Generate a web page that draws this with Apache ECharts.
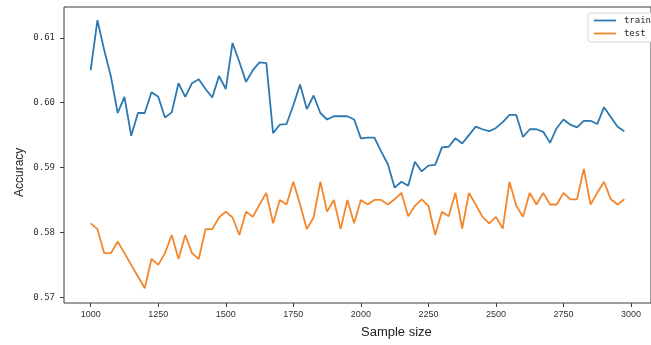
<!DOCTYPE html>
<html>
<head>
<meta charset="utf-8">
<script src="https://cdn.jsdelivr.net/npm/echarts@6/dist/echarts.min.js"></script>
<style>
html,body{margin:0;padding:0;background:#fff;}
#chart{width:651px;height:345px;}
</style>
</head>
<body>
<div id="chart"></div>
<script>
const sampleSizes = [1000,1025,1050,1075,1100,1125,1150,1175,1200,1225,1250,1275,1300,1325,1350,1375,1400,1425,1450,1475,
  1500,1525,1550,1575,1600,1625,1650,1675,1700,1725,1750,1775,1800,1825,1850,1875,1900,1925,1950,1975,
  2000,2025,2050,2075,2100,2125,2150,2175,2200,2225,2250,2275,2300,2325,2350,2375,2400,2425,2450,2475,
  2500,2525,2550,2575,2600,2625,2650,2675,2700,2725,2750,2775,2800,2825,2850,2875,2900,2925,2950,2975];

const trainAcc = [0.6050,0.6127,0.6081,0.6040,0.5984,0.6009,0.5949,0.5984,0.5984,0.6016,
  0.6009,0.5977,0.5985,0.6030,0.6009,0.6030,0.6036,0.6021,0.6008,0.6041,
  0.6021,0.6092,0.6063,0.6032,0.6050,0.6062,0.6061,0.5953,0.5966,0.5967,
  0.5996,0.6028,0.5990,0.6011,0.5984,0.5974,0.5979,0.5979,0.5979,0.5974,
  0.5945,0.5946,0.5946,0.5925,0.5905,0.5869,0.5878,0.5872,0.5909,0.5894,
  0.5903,0.5904,0.5931,0.5932,0.5945,0.5937,0.5950,0.5963,0.5959,0.5956,
  0.5961,0.5970,0.5981,0.5981,0.5947,0.5959,0.5959,0.5955,0.5938,0.5961,
  0.5974,0.5966,0.5962,0.5972,0.5972,0.5967,0.5993,0.5978,0.5963,0.5956];

const testAcc = [0.5814,0.5805,0.5768,0.5768,0.5786,0.5768,0.5750,0.5732,0.5714,0.5759,
  0.5750,0.5768,0.5796,0.5759,0.5796,0.5768,0.5759,0.5805,0.5805,0.5823,
  0.5832,0.5823,0.5796,0.5832,0.5824,0.5843,0.5861,0.5814,0.5850,0.5843,
  0.5878,0.5843,0.5805,0.5823,0.5878,0.5832,0.5850,0.5805,0.5850,0.5814,
  0.5850,0.5843,0.5850,0.5850,0.5843,0.5851,0.5861,0.5825,0.5841,0.5851,
  0.5841,0.5796,0.5832,0.5825,0.5861,0.5806,0.5861,0.5843,0.5824,0.5814,
  0.5824,0.5806,0.5878,0.5841,0.5824,0.5861,0.5843,0.5861,0.5843,0.5843,
  0.5861,0.5851,0.5851,0.5898,0.5843,0.5861,0.5878,0.5851,0.5843,0.5851];

const xTicks = [1000,1250,1500,1750,2000,2250,2500,2750,3000];
const yTicks = [0.57,0.58,0.59,0.60,0.61];

const seriesNames = ['train','test'];
const colors = ['#2b78b2','#f4862b'];

const chart = echarts.init(document.getElementById('chart'), null, {renderer:'canvas'});
const pair = (ys) => sampleSizes.map((x,i)=>[x, ys[i]]);

chart.setOption({
  animation:false,
  backgroundColor:'#fff',
  color: colors,
  grid:{left:64, top:7, width:595, height:296, show:true, borderColor:'#3a3a3a', borderWidth:1, backgroundColor:'transparent'},
  xAxis:{
    type:'value', min:901.25, max:3073.75,
    axisLine:{show:false},
    splitLine:{show:false},
    axisTick:{show:true, customValues:xTicks, length:4, lineStyle:{color:'#3a3a3a'}},
    axisLabel:{customValues:xTicks, margin:7, fontSize:9, color:'#333', fontFamily:'Liberation Sans', formatter:(v)=>String(v)}
  },
  yAxis:{
    type:'value', min:0.56912, max:0.61474,
    axisLine:{show:false},
    splitLine:{show:false},
    axisTick:{show:true, customValues:yTicks, length:4, lineStyle:{color:'#3a3a3a'}},
    axisLabel:{customValues:yTicks, margin:9, fontSize:9, color:'#333', fontFamily:'DejaVu Sans Mono', formatter:(v)=>v.toFixed(2)}
  },
  legend:{
    orient:'vertical', left:588, top:13,
    padding:[3,40,4,5],
    itemWidth:22, itemHeight:10, itemGap:4,
    itemStyle:{opacity:0},
    lineStyle:{width:1.8},
    backgroundColor:'#fff', borderColor:'#d6d6d6', borderWidth:1, borderRadius:3,
    textStyle:{fontFamily:'DejaVu Sans Mono', fontSize:9, color:'#222', padding:[0,0,0,3]},
    data:seriesNames
  },
  series:[
    {name:seriesNames[0], type:'line', data:pair(trainAcc), symbol:'none', lineStyle:{width:1.8, color:colors[0]}, itemStyle:{color:colors[0]}},
    {name:seriesNames[1], type:'line', data:pair(testAcc), symbol:'none', lineStyle:{width:1.8, color:colors[1]}, itemStyle:{color:colors[1]}}
  ],
  graphic:[
    {type:'text', left:361, top:326, style:{text:'Sample size', font:'13px "Liberation Sans"', fill:'#222'}},
    {type:'text', x:14, y:197, rotation:Math.PI/2, style:{text:'Accuracy', font:'12px "Liberation Sans"', fill:'#222'}}
  ]
});
</script>
</body>
</html>
